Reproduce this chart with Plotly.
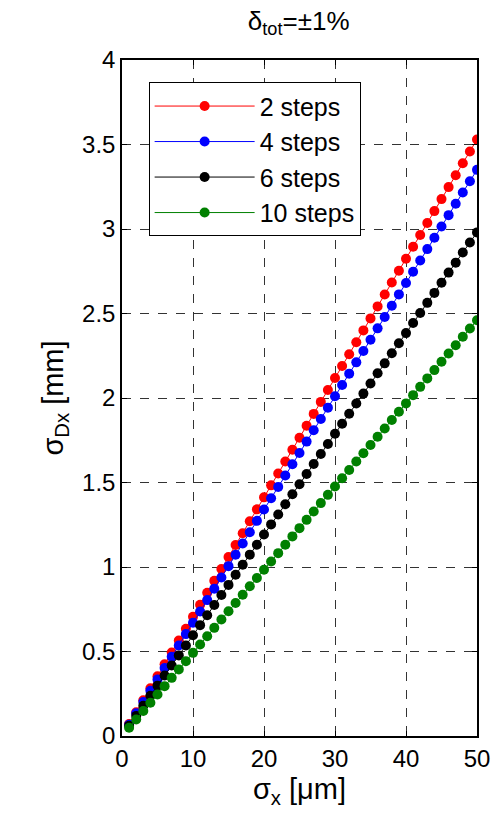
import plotly.graph_objects as go

sigma_x = list(range(1, 51))

steps2 = [0.071, 0.141, 0.212, 0.282, 0.353, 0.424, 0.494, 0.565, 0.635, 0.706,
          0.777, 0.847, 0.918, 0.988, 1.059, 1.130, 1.200, 1.271, 1.341, 1.412,
          1.483, 1.553, 1.624, 1.694, 1.765, 1.836, 1.906, 1.977, 2.047, 2.118,
          2.189, 2.259, 2.330, 2.400, 2.471, 2.542, 2.612, 2.683, 2.753, 2.824,
          2.895, 2.965, 3.036, 3.106, 3.177, 3.248, 3.318, 3.389, 3.459, 3.530]
steps4 = [0.067, 0.134, 0.201, 0.268, 0.335, 0.402, 0.469, 0.536, 0.603, 0.670,
          0.737, 0.804, 0.871, 0.938, 1.005, 1.072, 1.139, 1.206, 1.273, 1.340,
          1.407, 1.474, 1.541, 1.608, 1.675, 1.742, 1.809, 1.876, 1.943, 2.010,
          2.077, 2.144, 2.211, 2.278, 2.345, 2.412, 2.479, 2.546, 2.613, 2.680,
          2.747, 2.814, 2.881, 2.948, 3.015, 3.082, 3.149, 3.216, 3.283, 3.350]
steps6 = [0.060, 0.119, 0.179, 0.238, 0.298, 0.358, 0.417, 0.477, 0.536, 0.596,
          0.656, 0.715, 0.775, 0.834, 0.894, 0.954, 1.013, 1.073, 1.132, 1.192,
          1.252, 1.311, 1.371, 1.430, 1.490, 1.550, 1.609, 1.669, 1.728, 1.788,
          1.848, 1.907, 1.967, 2.026, 2.086, 2.146, 2.205, 2.265, 2.324, 2.384,
          2.444, 2.503, 2.563, 2.622, 2.682, 2.742, 2.801, 2.861, 2.920, 2.980]
steps10 = [0.049, 0.098, 0.148, 0.197, 0.246, 0.295, 0.344, 0.394, 0.443, 0.492,
           0.541, 0.590, 0.640, 0.689, 0.738, 0.787, 0.836, 0.886, 0.935, 0.984,
           1.033, 1.082, 1.132, 1.181, 1.230, 1.279, 1.328, 1.378, 1.427, 1.476,
           1.525, 1.574, 1.624, 1.673, 1.722, 1.771, 1.820, 1.870, 1.919, 1.968,
           2.017, 2.066, 2.116, 2.165, 2.214, 2.263, 2.312, 2.362, 2.411, 2.460]

series = [("2 steps", steps2, "#ff0000"),
          ("4 steps", steps4, "#0000ff"),
          ("6 steps", steps6, "#000000"),
          ("10 steps", steps10, "#008000")]

FONT = "Arial, Liberation Sans, sans-serif"

fig = go.Figure()
for name, ys, col in series:
    fig.add_trace(go.Scatter(
        x=sigma_x, y=ys, name=name, mode="lines+markers",
        line=dict(color=col, width=1),
        marker=dict(color=col, size=10, line=dict(width=0)),
    ))

axis_common = dict(
    showline=True, linecolor="black", linewidth=1.5, mirror="ticks",
    ticks="inside", ticklen=5, tickcolor="black", tickwidth=1,
    showgrid=True, gridcolor="#333333", griddash="dash", gridwidth=1,
    zeroline=False, tickfont=dict(family=FONT, size=24, color="black"),
)

fig.update_xaxes(range=[0, 50], dtick=10, **axis_common,
                 title=dict(text="σ<sub>x</sub> [μm]", font=dict(family=FONT, size=29, color="black"), standoff=8))
fig.update_yaxes(range=[0, 4], dtick=0.5, **axis_common,
                 title=dict(text="σ<sub>Dx</sub> [mm]", font=dict(family=FONT, size=29, color="black"), standoff=10))

fig.update_layout(
    width=502, height=820,
    margin=dict(l=122, r=21, t=60, b=84),
    plot_bgcolor="white", paper_bgcolor="white",
    title=dict(text="δ<sub>tot</sub>=±1%", x=0.595, xanchor="center", y=0.975, yanchor="middle",
               font=dict(family=FONT, size=26, color="black")),
    legend=dict(x=0.075, y=0.967, xanchor="left", yanchor="top",
                bgcolor="white", bordercolor="black", borderwidth=1,
                font=dict(family=FONT, size=25, color="black"),
                itemwidth=100, tracegroupgap=0),
    showlegend=True,
)

fig.write_html("out.html")
